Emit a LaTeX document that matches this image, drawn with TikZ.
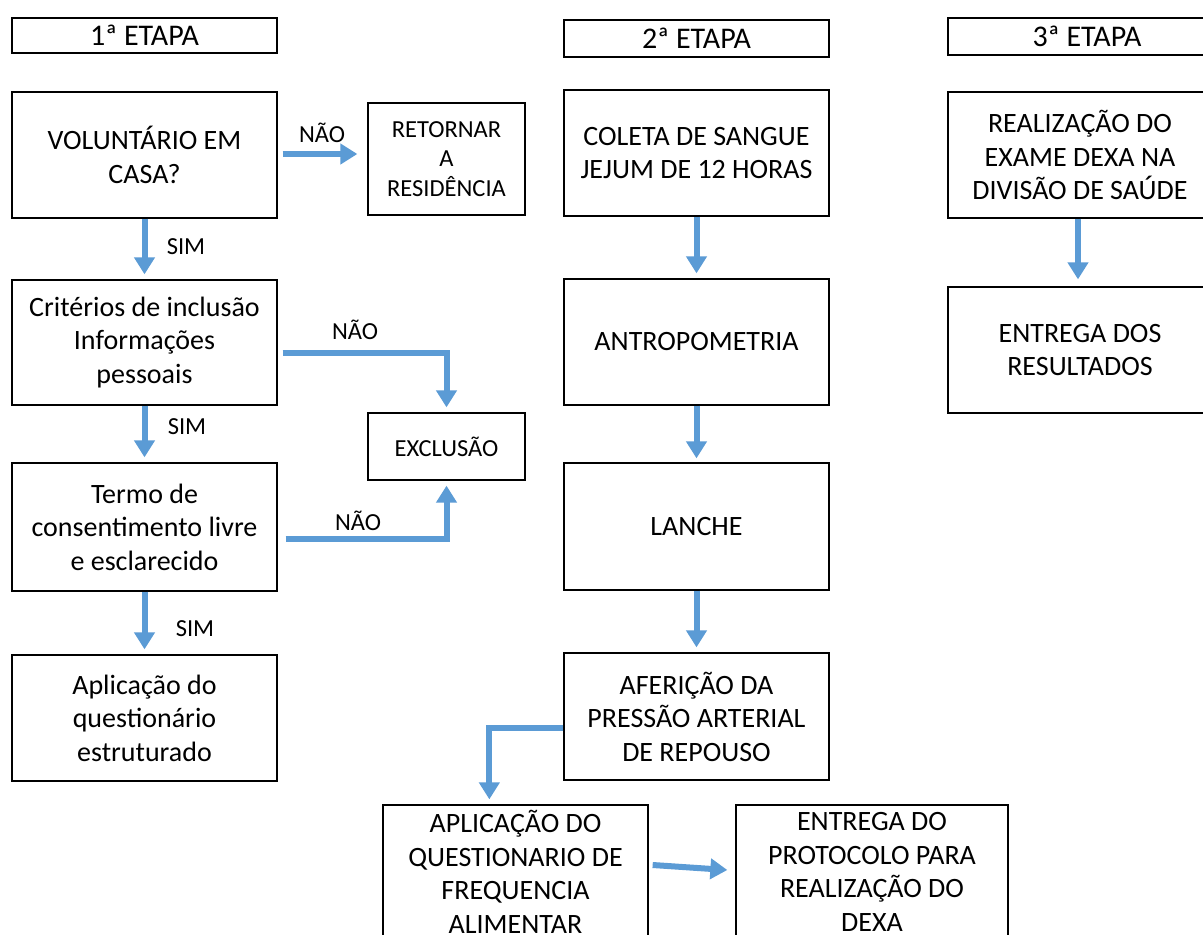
\documentclass[tikz,border=0pt]{standalone}
\usepackage{fontspec}
\setmainfont{Carlito}
\usetikzlibrary{arrows.meta,calc}
\definecolor{arrowblue}{HTML}{5B9BD5}
\tikzset{
  box/.style={draw=black, line width=1.3pt, rectangle, inner sep=0pt, align=center,
    font=\fontsize{28}{33.5}\selectfont},
  smallbox/.style={box, font=\fontsize{24.5}{29.5}\selectfont},
  headbox/.style={box, font=\fontsize{30}{34}\selectfont},
  lbl/.style={font=\fontsize{24.5}{29}\selectfont, inner sep=0pt},
  arr/.style={draw=arrowblue, line width=6pt, -{Triangle[width=20pt,length=17pt]}},
}
\begin{document}
\begin{tikzpicture}[x=1pt,y=-1pt]
\useasboundingbox (0,0) rectangle (1203,935);
\clip (0,0) rectangle (1203,935);
\fill[white] (0,0) rectangle (1203,935);
% headers
\node[headbox, minimum width=265pt, minimum height=35pt] (h1) at (144.5,35.5) {1ª ETAPA};
\node[headbox, minimum width=265pt, minimum height=37pt] (h2) at (696.5,38.5) {2ª ETAPA};
\node[headbox, minimum width=278pt, minimum height=37pt] (h3) at (1087,36.5) {3ª ETAPA};
% column 1
\node[box, minimum width=265pt, minimum height=126pt] (vol) at (144.5,155) {VOLUNTÁRIO EM\\CASA?};
\node[smallbox, minimum width=157pt, minimum height=112pt] (ret) at (446.5,159) {RETORNAR\\A\\RESIDÊNCIA};
\node[box, minimum width=265pt, minimum height=125pt] (crit) at (144.5,342.5) {Critérios de inclusão\\Informações\\pessoais};
\node[smallbox, minimum width=157pt, minimum height=67pt] (exc) at (446.5,446.5) {EXCLUSÃO};
\node[box, minimum width=265pt, minimum height=128pt] (termo) at (144.5,527) {Termo de\\consentimento livre\\e esclarecido};
\node[box, minimum width=265pt, minimum height=126pt] (aplic) at (144.5,718) {Aplicação do\\questionário\\estruturado};
% column 2
\node[box, minimum width=265pt, minimum height=126pt] (col) at (696.5,153) {COLETA DE SANGUE\\JEJUM DE 12 HORAS};
\node[box, minimum width=265pt, minimum height=126pt] (antro) at (696.5,342) {ANTROPOMETRIA};
\node[box, minimum width=265pt, minimum height=127pt] (lanche) at (696.5,526.5) {LANCHE};
\node[box, minimum width=265pt, minimum height=127pt] (afer) at (696.5,716.5) {AFERIÇÃO DA\\PRESSÃO ARTERIAL\\DE REPOUSO};
\node[box, minimum width=265pt, minimum height=134pt] (qfa) at (515.5,872) {APLICAÇÃO DO\\QUESTIONARIO DE\\FREQUENCIA\\ALIMENTAR};
\node[box, minimum width=272pt, minimum height=134pt] (entp) at (872,872) {ENTREGA DO\\PROTOCOLO PARA\\REALIZAÇÃO DO\\DEXA};
% column 3
\node[box, minimum width=264pt, minimum height=126pt] (real) at (1080,155) {REALIZAÇÃO DO\\EXAME DEXA NA\\DIVISÃO DE SAÚDE};
\node[box, minimum width=264pt, minimum height=126pt] (entr) at (1080,350) {ENTREGA DOS\\RESULTADOS};
% arrows column 1
\draw[arr] ($(vol.east)+(5,-1)$) -- ($(ret.west)+(-10,-5)$);
\draw[arr] (vol.south) -- ($(crit.north)+(0,-5)$);
\draw[arr] (crit.south) -- ($(termo.north)+(0,-5)$);
\draw[arr] (termo.south) -- ($(aplic.north)+(0,-5)$);
\draw[arr] ($(crit.east)+(5,10)$) -| ($(exc.north)+(0,-5)$);
\draw[arr] ($(termo.east)+(8,12)$) -| ($(exc.south)+(0,5)$);
% arrows column 2
\draw[arr] (col.south) -- ($(antro.north)+(0,-5)$);
\draw[arr] (antro.south) -- ($(lanche.north)+(0,-4)$);
\draw[arr] (lanche.south) -- ($(afer.north)+(0,-5)$);
\draw[arr] ($(afer.west)+(0,11.5)$) -| ($(qfa.north west)+(107,-5)$);
\draw[arr] ($(qfa.east)+(4,-7)$) -- ($(entp.west)+(-8,-2)$);
% arrows column 3
\draw[arr] ($(real.south)+(-2,0)$) -- ($(entr.north)+(-2,-7)$);
% labels
\node[lbl] (l1) at (322,133) {NÃO};
\node[lbl] (l2) at (186,247) {SIM};
\node[lbl] (l3) at (355,330) {NÃO};
\node[lbl] (l4) at (187,427) {SIM};
\node[lbl] (l5) at (358,521) {NÃO};
\node[lbl] (l6) at (195,629) {SIM};
\end{tikzpicture}
\end{document}
